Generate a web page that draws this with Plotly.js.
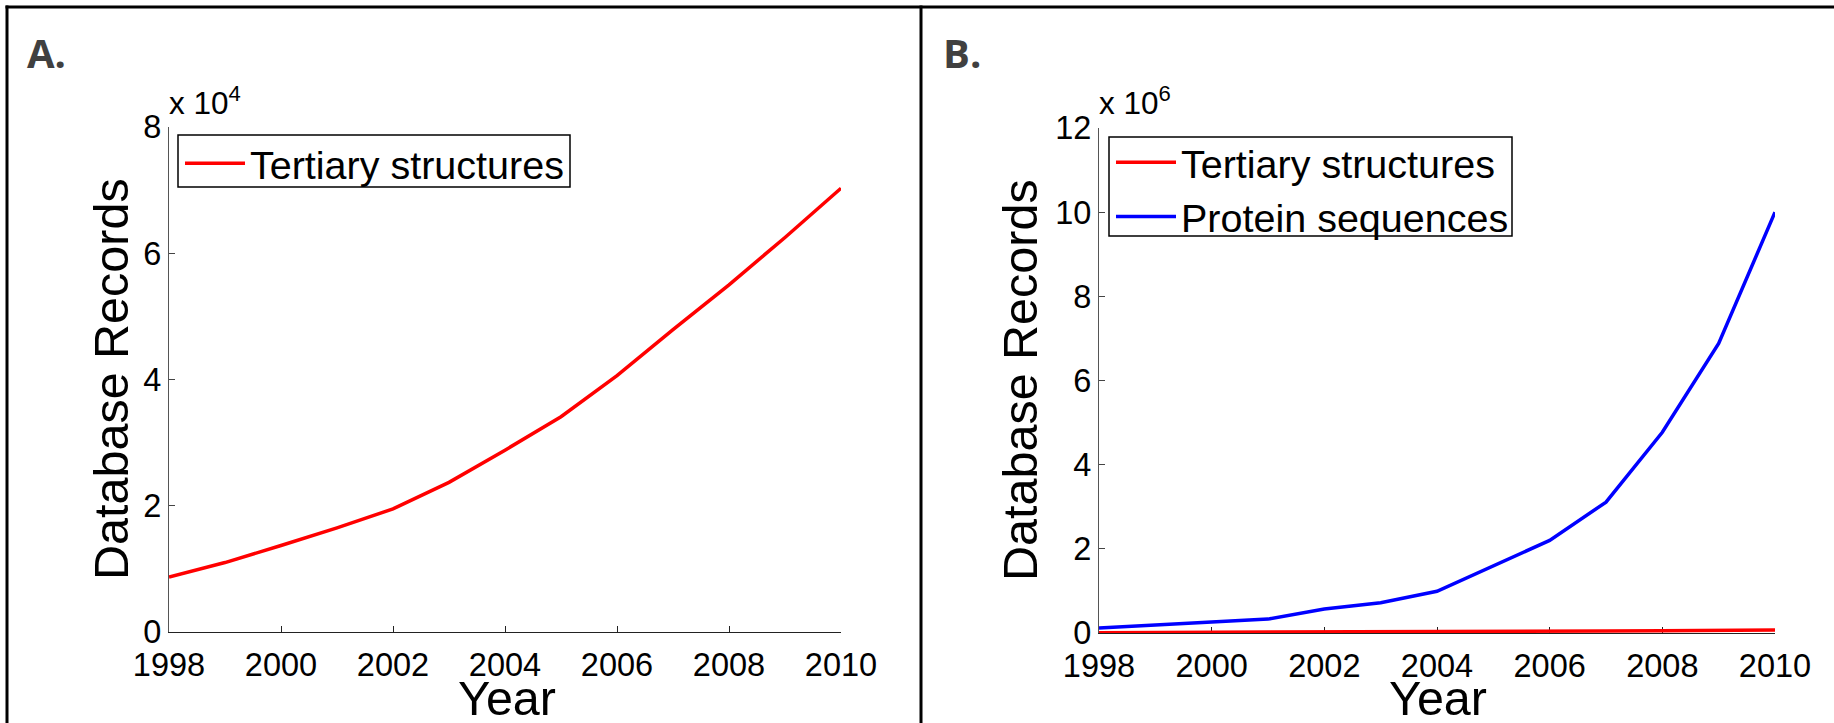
<!DOCTYPE html>
<html><head><meta charset="utf-8">
<script src="https://cdn.plot.ly/plotly-3.0.1.min.js"></script>
<style>html,body{margin:0;padding:0;background:#fff}#chart{width:1834px;height:723px}</style>
</head><body><div id="chart"></div>
<script>
// ---- data ----
const years = [1998, 1999, 2000, 2001, 2002, 2003, 2004, 2005, 2006, 2007, 2008, 2009, 2010];
const tertiaryStructures = [8700, 11000, 13700, 16500, 19500, 23700, 28800, 34100, 40600, 47900, 55000, 62500, 70300];
const proteinSequences = [120000, 190000, 260000, 330000, 570000, 720000, 990000, 1600000, 2200000, 3110000, 4770000, 6880000, 10000000];
const xTickVals = [1998, 2000, 2002, 2004, 2006, 2008, 2010];
const yTicksA = [0, 2, 4, 6, 8];
const yTicksB = [0, 2, 4, 6, 8, 10, 12];
const scaleA = 1e4, scaleB = 1e6;
const seriesNames = ['Tertiary structures', 'Protein sequences'];
const panelLabels = ['A.', 'B.'];
const xTitle = 'Year';
const yTitle = 'Database Records';

// ---- layout helpers ----
const W = 1834, H = 723;
const px = x => x / W;
const py = y => 1 - y / H;
const FONT = 'Liberation Sans, Arial, Helvetica, sans-serif';

const traces = [
  {x: years, y: tertiaryStructures.map(v => v / scaleA), xaxis: 'x', yaxis: 'y', legend: 'legend',
   name: seriesNames[0], mode: 'lines', line: {color: '#ff0000', width: 3.5}},
  {x: years, y: tertiaryStructures.map(v => v / scaleB), xaxis: 'x2', yaxis: 'y2', legend: 'legend2',
   name: seriesNames[0], mode: 'lines', line: {color: '#ff0000', width: 3.5}},
  {x: years, y: proteinSequences.map(v => v / scaleB), xaxis: 'x2', yaxis: 'y2', legend: 'legend2',
   name: seriesNames[1], mode: 'lines', line: {color: '#0000ff', width: 3.5}}
];

function xAx(domain, anchor) {
  return {domain: domain, anchor: anchor, range: [1998, 2010], tickvals: xTickVals,
    ticktext: xTickVals.map(String), ticks: 'inside', ticklen: 6, tickwidth: 1, tickcolor: '#222',
    showline: true, linecolor: '#222', linewidth: 1.2, showgrid: false, zeroline: false, layer: 'below traces',
    tickfont: {family: FONT, size: 32.5, color: '#000'}, ticklabelstandoff: 4, automargin: false, fixedrange: true};
}
function yAx(domain, anchor, ticks, top) {
  return {domain: domain, anchor: anchor, range: [0, top], tickvals: ticks, ticktext: ticks.map(String),
    ticks: 'inside', ticklen: 6, tickwidth: 1, tickcolor: '#444',
    showline: true, linecolor: '#555', linewidth: 1.2, showgrid: false, zeroline: false, layer: 'below traces',
    tickfont: {family: FONT, size: 32.5, color: '#000'}, automargin: false, fixedrange: true};
}

const ann = [];
function txt(text, x, y, size, opts) {
  ann.push(Object.assign({text: text, x: px(x), y: py(y), xref: 'paper', yref: 'paper', showarrow: false,
    xanchor: 'center', yanchor: 'middle', font: {family: FONT, size: size, color: '#000'}}, opts || {}));
}
// panel labels
txt('<b>' + panelLabels[0] + '</b>', 25, 53, 40, {xanchor: 'left', font: {family: 'Open Sans, sans-serif', size: 40, color: '#404040'}});
txt('<b>' + panelLabels[1] + '</b>', 941, 53, 40, {xanchor: 'left', font: {family: 'Open Sans, sans-serif', size: 40, color: '#404040'}});
// exponent labels
txt('x 10<sup>4</sup>', 167, 101, 31.5, {xanchor: 'left'});
txt('x 10<sup>6</sup>', 1097, 101, 31.5, {xanchor: 'left'});
// axis titles
txt(yTitle, 111, 379, 48.5, {textangle: -90});
txt(yTitle, 1020, 380, 48.5, {textangle: -90});
txt(xTitle, 507, 698, 48.5);
txt(xTitle, 1438, 698, 48.5);

const frame = {type: 'line', xref: 'paper', yref: 'paper', line: {color: '#000', width: 3}};
const box = {type: 'rect', xref: 'paper', yref: 'paper', line: {color: '#000', width: 1.5}, fillcolor: '#fff', layer: 'above'};
const shapes = [
  Object.assign({x0: px(5.5), x1: 1, y0: py(7), y1: py(7)}, frame),
  Object.assign({x0: px(7), x1: px(7), y0: py(5.5), y1: 0}, frame),
  Object.assign({x0: px(921), x1: px(921), y0: py(5.5), y1: 0}, frame),
  Object.assign({x0: px(178), x1: px(570), y0: py(135), y1: py(187)}, box),
  Object.assign({x0: px(1109), x1: px(1512), y0: py(137), y1: py(236)}, box)
];

const legendBase = {xref: 'paper', yref: 'paper', xanchor: 'left', yanchor: 'top', bgcolor: 'rgba(0,0,0,0)',
  bordercolor: 'rgba(0,0,0,0)', borderwidth: 0, font: {family: FONT, size: 39.5, color: '#000'},
  itemwidth: 60, tracegroupgap: 0};

const layout = {
  width: W, height: H, margin: {l: 0, r: 0, t: 0, b: 0}, paper_bgcolor: '#fff', plot_bgcolor: '#fff',
  showlegend: true,
  xaxis: xAx([px(169), px(841)], 'y'),
  yaxis: yAx([py(632), py(127)], 'x', yTicksA, 8),
  xaxis2: xAx([px(1099), px(1775)], 'y2'),
  yaxis2: yAx([py(633), py(128)], 'x2', yTicksB, 12),
  legend: Object.assign({x: px(180), y: py(131)}, legendBase),
  legend2: Object.assign({x: px(1111), y: py(130)}, legendBase),
  annotations: ann,
  shapes: shapes
};

Plotly.newPlot('chart', traces, layout, {staticPlot: true, displayModeBar: false});
</script>
</body></html>
